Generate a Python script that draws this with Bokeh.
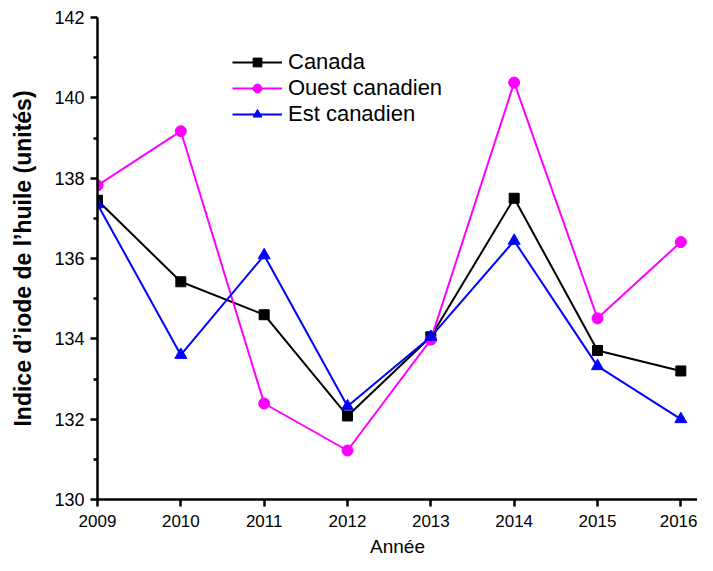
from bokeh.plotting import figure
from bokeh.models import Range1d, FixedTicker, Legend, LegendItem
from bokeh.embed import file_html
from bokeh.resources import INLINE

years = [2009, 2010, 2011, 2012, 2013, 2014, 2015, 2016]
canada = [137.45, 135.42, 134.6, 132.08, 134.05, 137.5, 133.71, 133.2]
ouest = [137.82, 139.17, 132.39, 131.22, 133.98, 140.38, 134.51, 136.41]
est = [137.35, 133.6, 136.08, 132.32, 134.05, 136.44, 133.32, 132.0]
y_ticks = [130, 132, 134, 136, 138, 140, 142]
y_minor = [131, 133, 135, 137, 139, 141]

FONT = "Liberation Sans"

p = figure(width=697, height=563, output_backend="svg", toolbar_location=None,
           x_range=Range1d(2009, 2016.2), y_range=Range1d(130, 142),
           min_border_left=97, min_border_right=0, min_border_top=17, min_border_bottom=64)
p.outline_line_color = None
p.xgrid.visible = False
p.ygrid.visible = False

l1 = p.line(years, canada, color="black", line_width=2)
m1 = p.scatter(years, canada, marker="square", size=10, color="black")
l2 = p.line(years, ouest, color="#ff00ff", line_width=2)
m2 = p.scatter(years, ouest, marker="circle", size=11, color="#ff00ff")
l3 = p.line(years, est, color="#0000ff", line_width=2)
m3 = p.scatter(years, est, marker="triangle", size=12, color="#0000ff")

for ax in (p.xaxis[0], p.yaxis[0]):
    ax.axis_line_width = 2.5
    ax.axis_line_color = "black"
    ax.major_tick_line_width = 2.5
    ax.minor_tick_line_width = 2.5
    ax.major_tick_in = 0
    ax.major_tick_out = 7
    ax.minor_tick_in = 0
    ax.minor_tick_out = 4
    ax.major_label_text_font = FONT
    ax.major_label_text_color = "black"
    ax.axis_label_text_font = FONT
    ax.axis_label_text_color = "black"

p.xaxis[0].ticker = FixedTicker(ticks=years)
p.xaxis[0].minor_tick_line_color = None
p.xaxis[0].axis_label = "Année"
p.xaxis[0].axis_label_text_font_style = "normal"
p.xaxis[0].major_label_text_font_size = "17px"
p.xaxis[0].axis_label_text_font_size = "19px"
p.xaxis[0].major_label_standoff = 8
p.xaxis[0].axis_label_standoff = 6

p.yaxis[0].ticker = FixedTicker(ticks=y_ticks, minor_ticks=y_minor)
p.yaxis[0].axis_label = "Indice d’iode de l’huile (unités)"
p.yaxis[0].axis_label_text_font_style = "bold"
p.yaxis[0].major_label_text_font_size = "18px"
p.yaxis[0].axis_label_text_font_size = "23px"
p.yaxis[0].major_label_standoff = 6
p.yaxis[0].axis_label_standoff = 15

legend = Legend(items=[
    LegendItem(label="Canada", renderers=[l1, m1]),
    LegendItem(label="Ouest canadien", renderers=[l2, m2]),
    LegendItem(label="Est canadien", renderers=[l3, m3]),
], location=(135, 372))
legend.background_fill_alpha = 0
legend.border_line_color = None
legend.padding = 0
legend.margin = 0
legend.spacing = 0
legend.glyph_width = 50
legend.glyph_height = 22
legend.label_height = 22
legend.label_standoff = 6
legend.label_text_font = FONT
legend.label_text_font_size = "22px"
legend.label_text_color = "black"
p.add_layout(legend, "center")

open("out.html", "w").write(file_html(p, INLINE))
